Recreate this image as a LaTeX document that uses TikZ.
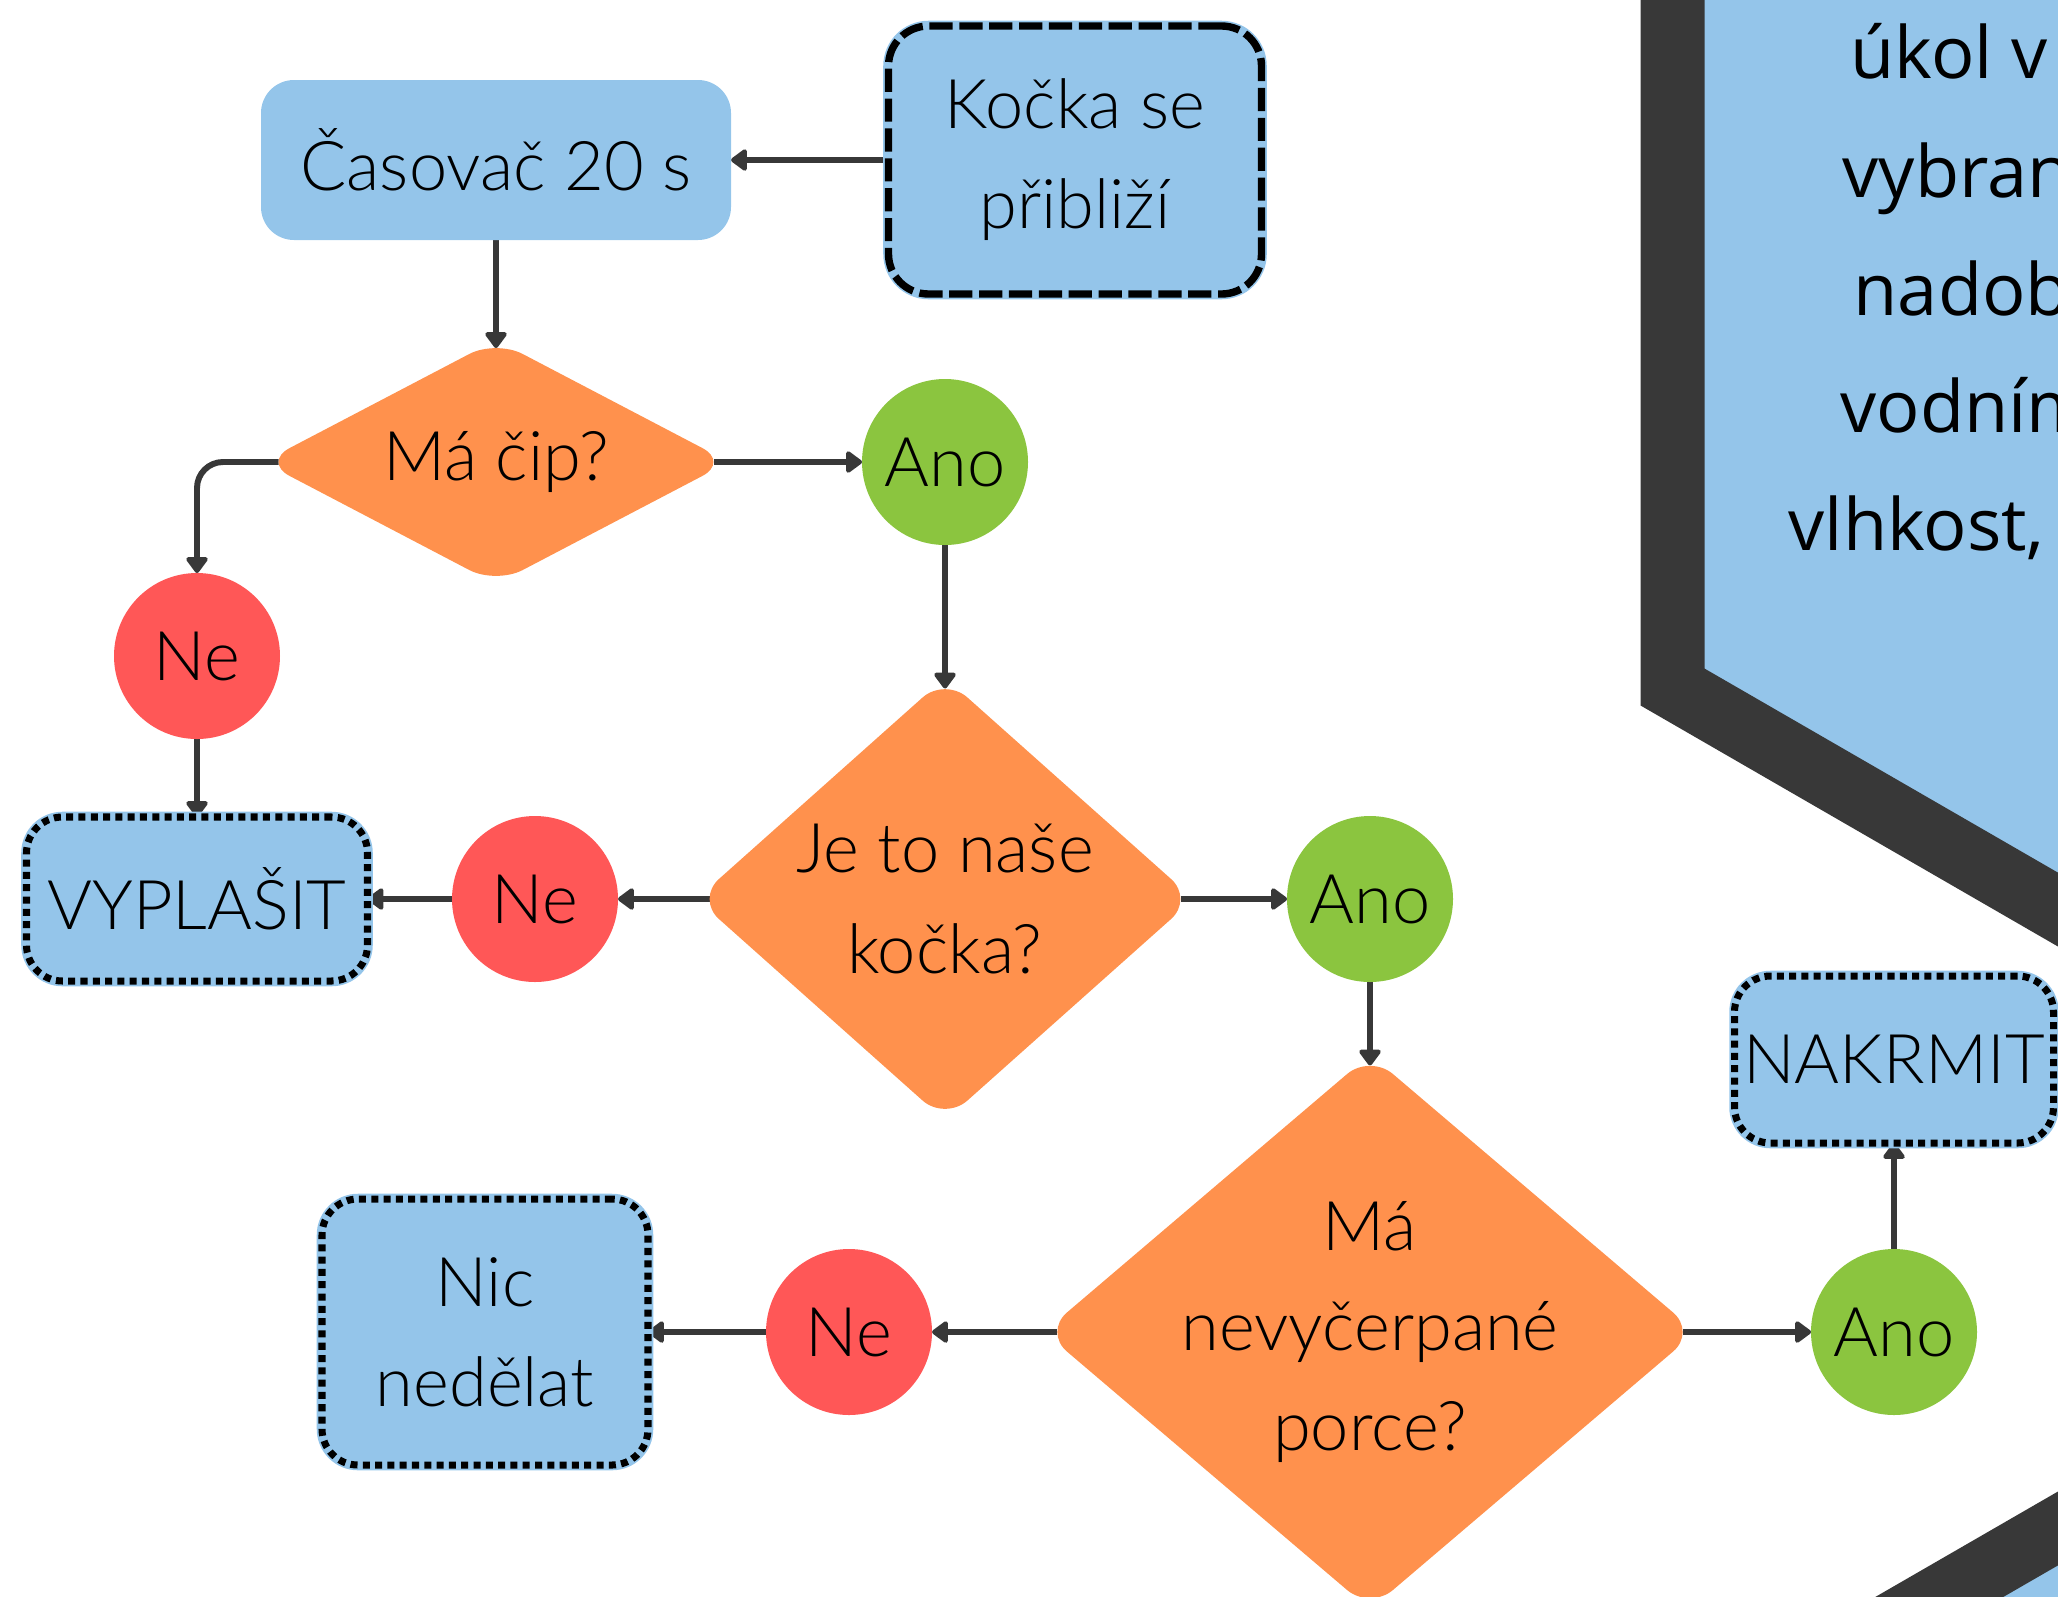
\documentclass[tikz,border=0pt]{standalone}
\usepackage{fontspec}
\IfFontExistsTF{Lato Light}{\setmainfont{Lato Light}}{\setmainfont{Lato}}
\newfontfamily\hexfont{Open Sans}
\usetikzlibrary{positioning, shapes.geometric, arrows.meta, backgrounds}

\definecolor{boxblue}{HTML}{94C5EA}
\definecolor{decorange}{HTML}{FF914D}
\definecolor{yesgreen}{HTML}{8BC53F}
\definecolor{nored}{HTML}{FF5757}
\definecolor{linegray}{HTML}{383838}

\begin{document}
\begin{tikzpicture}[
  font=\fontsize{19.5}{28.5}\selectfont,
  >={Triangle[round, length=5pt, width=7pt]},
  conn/.style={
        line width=1.7pt,
        linegray,
        ->
  },
  box/.style={
        rectangle,
        rounded corners=0.33cm,
        fill=boxblue,
        align=center,
        inner sep=0pt,
        outer sep=0pt
  },
  dashbox/.style={box, draw=black, line width=2.1pt, dash pattern=on 6.6pt off 1.9pt, rounded corners=0.4cm,
        preaction={draw=boxblue, solid, line width=3pt}},
  dotbox/.style={box, draw=black, line width=2pt, dash pattern=on 2pt off 1.5pt, rounded corners=0.36cm,
        preaction={draw=boxblue, solid, line width=3pt}},
  decision/.style={
        diamond,
        fill=decorange,
        rounded corners=0.3cm,
        inner sep=0pt,
        outer sep=0pt,
        label={[align=center]center:#1}
  },
  yes/.style={circle, fill=yesgreen, minimum size=1.66cm, inner sep=0pt, outer sep=0pt},
  no/.style={circle, fill=nored, minimum size=1.66cm, inner sep=0pt, outer sep=0pt},
  hextext/.style={anchor=base west, inner sep=0pt, font=\hexfont\fontsize{20.5}{33}\selectfont}
]

    \useasboundingbox (0,0) rectangle (20.58,-15.96);
    \clip (0,0) rectangle (20.58,-15.96);

    % hexagons at the right edge
    \draw[line width=0.64cm, draw=linegray, fill=boxblue]
        (22.96,3.93) -- (29.195,0.33) -- (29.195,-6.87) -- (22.96,-10.47)
        -- (16.725,-6.87) -- (16.725,0.33) -- cycle;
    \draw[line width=0.64cm, draw=linegray, fill=boxblue]
        (22.96,-13.91) -- (29.195,-17.51) -- (29.195,-24.71) -- (22.96,-28.31)
        -- (16.725,-24.71) -- (16.725,-17.51) -- cycle;

    \node[hextext] (Hex_1) at (18.50,-0.78) {úkol v};
    \node[hextext] (Hex_2) at (18.42,-1.97) {vybran};
    \node[hextext] (Hex_3) at (18.53,-3.15) {nadob};
    \node[hextext] (Hex_4) at (18.40,-4.32) {vodním};
    \node[hextext] (Hex_5) at (17.88,-5.50) {vlhkost,};

    % flow chart
    \node[box, minimum width=4.70cm, minimum height=1.60cm] (Casovac) at (4.96,-1.60) {Časovač 20 s};
    \node[dashbox, minimum width=3.73cm, minimum height=2.68cm, right=1.575cm of Casovac] (Kocka) {Kočka se\\přibliží};

    \node[decision={Má čip?}, minimum width=4.66cm, minimum height=2.44cm, below=1.00cm of Casovac] (Cip) {};
    \node[yes, right=1.33cm of Cip] (Ano_1) {Ano};

    \node[decision={Je to naše\\kočka?}, minimum width=4.97cm, minimum height=4.43cm, below=1.325cm of Ano_1] (Nase) {};
    \node[no, left=0.785cm of Nase] (Ne_2) {Ne};
    \node[dotbox, minimum width=3.41cm, minimum height=1.64cm, left=0.845cm of Ne_2] (Vyplasit) {VYPLAŠIT};
    \node[no, above=0.78cm of Vyplasit] (Ne_1) {Ne};
    \node[yes, right=0.935cm of Nase] (Ano_2) {Ano};

    \node[decision={Má\\nevyčerpané\\porce?}, minimum width=6.52cm, minimum height=5.55cm, below=0.725cm of Ano_2] (Porce) {};
    \node[no, left=1.12cm of Porce] (Ne_3) {Ne};
    \node[dotbox, minimum width=3.26cm, minimum height=2.66cm, left=1.18cm of Ne_3] (Nic) {Nic\\nedělat};
    \node[yes, right=1.15cm of Porce] (Ano_3) {Ano};
    \node[dotbox, minimum width=3.19cm, minimum height=1.67cm, above=1.06cm of Ano_3] (Nakrmit) {NAKRMIT};

    \begin{scope}[on background layer]
        \draw[conn] (Kocka) -- (Casovac);
        \draw[conn, shorten >=-0.08cm] (Casovac) -- (Cip);
        \draw[conn, rounded corners=0.26cm, shorten <=-0.155cm] (Cip.west) -| (Ne_1.north);
        \draw[conn, shorten <=-0.155cm] (Cip) -- (Ano_1);
        \draw[conn] (Ne_1) -- (Vyplasit);
        \draw[conn, shorten >=-0.11cm] (Ano_1) -- (Nase);
        \draw[conn, shorten <=-0.13cm] (Nase) -- (Ne_2);
        \draw[conn] (Ne_2) -- (Vyplasit);
        \draw[conn, shorten <=-0.13cm] (Nase) -- (Ano_2);
        \draw[conn, shorten >=-0.11cm] (Ano_2) -- (Porce);
        \draw[conn, shorten <=-0.13cm] (Porce) -- (Ne_3);
        \draw[conn] (Ne_3) -- (Nic);
        \draw[conn, shorten <=-0.13cm] (Porce) -- (Ano_3);
        \draw[conn] (Ano_3) -- (Nakrmit);
    \end{scope}
\end{tikzpicture}
\end{document}
